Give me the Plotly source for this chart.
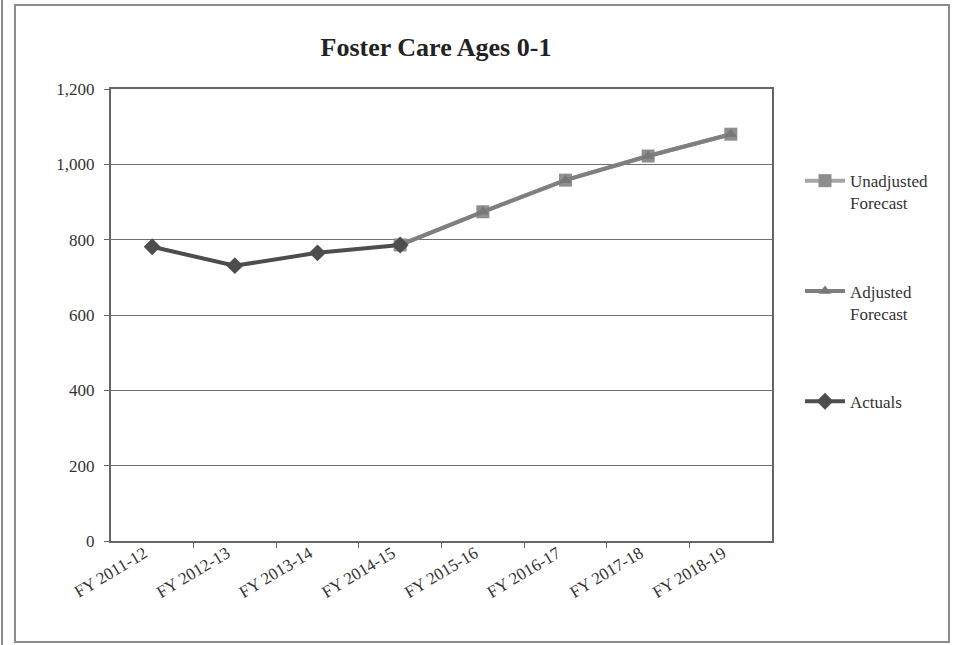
import plotly.graph_objects as go

# Fiscal years on the category axis
years = ["FY 2011-12", "FY 2012-13", "FY 2013-14", "FY 2014-15",
         "FY 2015-16", "FY 2016-17", "FY 2017-18", "FY 2018-19"]

# Caseload counts
actuals = [781, 731, 765, 786, None, None, None, None]
adjusted_forecast = [None, None, None, 786, 874, 958, 1022, 1080]
unadjusted_forecast = [None, None, None, 786, 874, 958, 1022, 1080]

y_ticks = [0, 200, 400, 600, 800, 1000, 1200]

W, H = 956, 645
L, R, T, B = 111, 184, 89, 104
pw, ph = W - L - R, H - T - B


def px_x(x):
    return (x - L) / pw


def px_y(y):
    return (H - B - y) / ph


SERIF = "Liberation Serif, Times New Roman, serif"

fig = go.Figure()

# blank padding lines give every legend entry the same height and keep
# each swatch level with the first word of its label
fig.add_trace(go.Scatter(
    x=years, y=unadjusted_forecast, name="&nbsp;<br>Unadjusted<br>Forecast",
    mode="lines+markers", legendgroup="u",
    line=dict(color="#a6a6a6", width=4),
    marker=dict(symbol="square", size=13, color="#8e8e8e"),
))
fig.add_trace(go.Scatter(
    x=years, y=adjusted_forecast, name="&nbsp;<br>Adjusted<br>Forecast",
    mode="lines+markers", legendgroup="a",
    line=dict(color="#7f7f7f", width=4),
    marker=dict(symbol="triangle-up", size=11, color="#777777"),
))
fig.add_trace(go.Scatter(
    x=years, y=actuals, name="&nbsp;<br>Actuals<br>&nbsp;",
    mode="lines+markers", legendgroup="c",
    line=dict(color="#4d4d4d", width=4),
    marker=dict(symbol="diamond", size=13, color="#4d4d4d"),
))

shapes = [
    # chart frame
    dict(type="rect", xref="paper", yref="paper",
         x0=px_x(15), x1=px_x(949), y0=px_y(642), y1=px_y(5),
         line=dict(color="#8c8c8c", width=2), layer="below"),
    # page rule on the left edge
    dict(type="line", xref="paper", yref="paper",
         x0=px_x(2), x1=px_x(2), y0=px_y(645), y1=px_y(0),
         line=dict(color="#8c8c8c", width=2)),
]

fig.update_layout(
    width=W, height=H,
    margin=dict(l=L, r=R, t=T, b=B),
    paper_bgcolor="white", plot_bgcolor="white",
    font=dict(family=SERIF, size=16, color="#333333"),
    title=dict(text="<b>Foster Care Ages 0-1</b>", x=px_x(436), xref="paper",
               xanchor="center", y=1 - 47 / H, yanchor="middle",
               font=dict(family=SERIF, size=26, color="#222222")),
    xaxis=dict(type="category", tickson="boundaries", ticks="outside",
               ticklen=5, tickcolor="#666666", showline=True,
               linecolor="#666666", linewidth=2, mirror=True,
               tickangle=-31, showgrid=False, ticklabelshift=-8,
               ticklabelstandoff=-6,
               tickfont=dict(family=SERIF, size=17, color="#333333")),
    yaxis=dict(range=[0, 1200], tickvals=y_ticks, tickformat=",",
               ticks="outside", ticklen=5, tickcolor="#666666",
               showline=True, linecolor="#666666", linewidth=2,
               mirror=True, showgrid=True, gridcolor="#6f6f6f",
               gridwidth=1, zeroline=False, ticklabelstandoff=6,
               tickfont=dict(family=SERIF, size=17, color="#333333")),
    legend=dict(x=px_x(800), y=px_y(141), xanchor="left", yanchor="top",
                tracegroupgap=41, bgcolor="rgba(0,0,0,0)",
                font=dict(family=SERIF, size=17, color="#333333"),
                itemwidth=40),
    shapes=shapes,
)

fig.write_html("out.html")
